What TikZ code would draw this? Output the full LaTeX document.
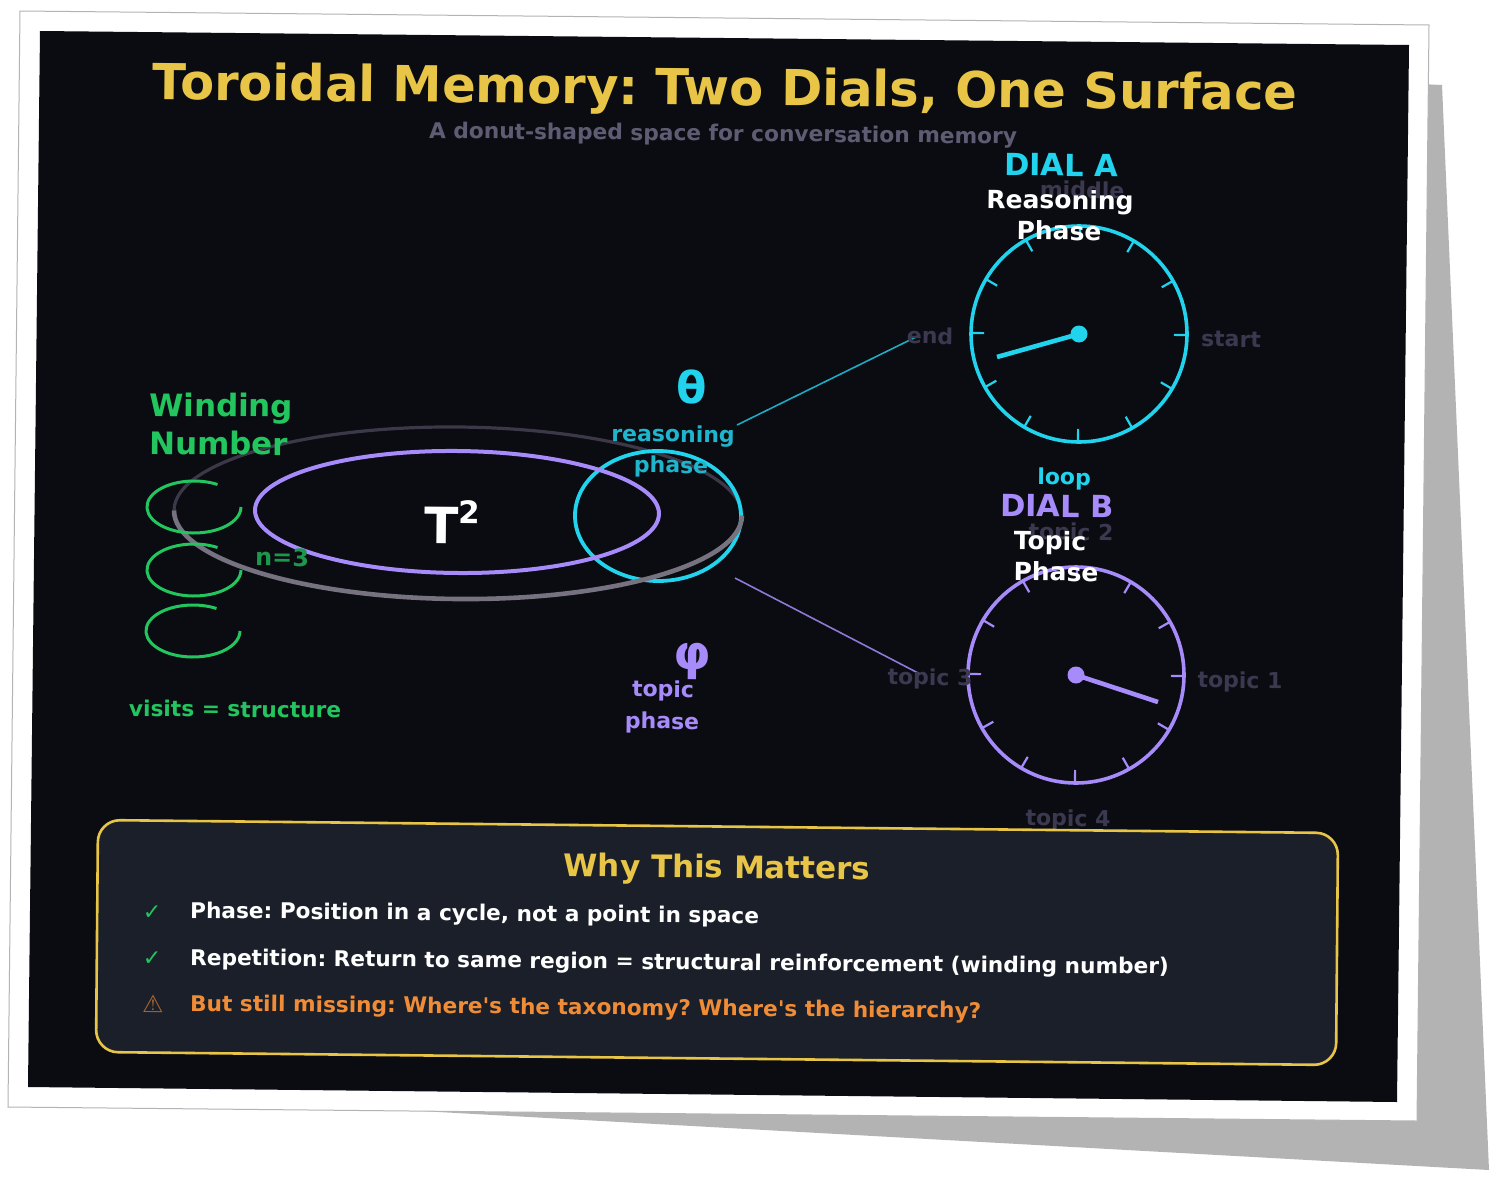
\documentclass[tikz,border=0pt]{standalone}
\usepackage{fontspec}
\setmainfont{DejaVu Sans}
\definecolor{bgdark}{HTML}{0A0C12}
\definecolor{panel}{HTML}{1A1F29}
\definecolor{gold}{HTML}{E8C547}
\definecolor{cyanc}{HTML}{22D3EE}
\definecolor{purp}{HTML}{A78BFA}
\definecolor{grn}{HTML}{22C55E}
\definecolor{orng}{HTML}{F08C35}
\definecolor{dim}{HTML}{3B3850}
\definecolor{subt}{HTML}{5F5B73}
\definecolor{torodark}{HTML}{3C3848}
\definecolor{torolight}{HTML}{767280}
\definecolor{shad}{HTML}{B3B3B3}
\newcommand{\fsz}[1]{\fontsize{#1}{#1}\selectfont}
\frenchspacing
\tikzset{
  lbl/.style={inner sep=0pt,anchor=base,rotate=-0.53,font=\frenchspacing\bfseries\fsz{#1}},
  lblw/.style={inner sep=0pt,anchor=base west,rotate=-0.53,font=\frenchspacing\bfseries\fsz{#1}},
  ring/.style={line width=3.6pt},
  tickmark/.style={line width=2.2pt},
  needle/.style={line width=4.6pt},
  winding/.style={grn,line width=3pt},
  leader/.style={line width=1.6pt}
}
\newcommand{\dialticks}[2]{%
  \foreach \a in {0,30,...,330} {
    \draw[tickmark,#2] ($(#1)+(\a+0.53:108pt)$) -- ($(#1)+(\a+0.53:95pt)$);
  }}
\usetikzlibrary{calc}
\begin{document}
\begin{tikzpicture}[x=1pt,y=1pt,yscale=-1]
\useasboundingbox (0,0) rectangle (1510,1189);
% shadow and frame
\fill[shad] (1442,85) -- (1489,1170) -- (330,1106) -- (1000,1000) -- (1420,84) -- cycle;
\draw[fill=white,draw=shad,line width=1pt] (20,11) -- (1429,25) -- (1417,1121) -- (8,1107) -- cycle;
\fill[bgdark] (40,31) -- (1409,45) -- (1397,1102) -- (28,1087) -- cycle;
% title
\node[lbl=49.6,text=gold] (title) at (725,105) {Toroidal Memory: Two Dials, One Surface};
\node[lbl=21.7,text=subt] (subtitle) at (723,141) {A donut-shaped space for conversation memory};
% coordinates
\coordinate (ca) at (1079,334);
\coordinate (cb) at (1076,675);
\coordinate (na) at (997,357);
\coordinate (nb) at (1158,702);
\coordinate (la1) at (737,425);
\coordinate (la2) at (918,336);
\coordinate (lb1) at (735,578);
\coordinate (lb2) at (920,674);
\coordinate (tc) at (458,513);
\coordinate (pc) at (457,512);
\coordinate (rc) at (658,516);
% torus
\draw[torodark,line width=3.2pt,rotate around={0.53:(tc)}] (174,513) arc[start angle=180,end angle=360,x radius=284pt,y radius=86pt];
\draw[cyanc,line width=3.8pt,rotate around={0.53:(rc)}] (rc) ellipse[x radius=83pt,y radius=65pt];
\draw[purp,line width=4pt,rotate around={0.53:(pc)}] (pc) ellipse[x radius=202pt,y radius=61pt];
\draw[torolight,line width=4.6pt,rotate around={0.53:(tc)}] (174,513) arc[start angle=180,end angle=0,x radius=284pt,y radius=86pt];
\node[lbl=50,text=white] (tsq) at (452,544) {T\raisebox{0.42em}{\fsz{31}2}};
% winding
\node[lblw=31,text=grn] (wind1) at (149,416) {Winding};
\node[lblw=31,text=grn] (wind2) at (149,454) {Number};
\coordinate (w1) at (194,507);
\coordinate (w2) at (194,570);
\coordinate (w3) at (193,631);
\draw[winding] ($(w1)+(-60:47pt and 26pt)$) arc[start angle=-60,end angle=-360,x radius=47pt,y radius=26pt];
\draw[winding] ($(w2)+(-60:47pt and 26pt)$) arc[start angle=-60,end angle=-360,x radius=47pt,y radius=26pt];
\draw[winding] ($(w3)+(-60:47pt and 26pt)$) arc[start angle=-60,end angle=-360,x radius=47pt,y radius=26pt];
\node[lbl=24,text=grn!75!bgdark] (nthree) at (282,566) {n=3};
\node[lbl=21.7,text=grn] (visits) at (235,717) {visits = structure};
% greek
\node[lbl=44,text=cyanc] (theta) at (692,404) {θ};
\node[lbl=22,text=cyanc!85!bgdark] (reas) at (673,442) {reasoning};
\node[lbl=22,text=cyanc!85!bgdark] (phasea) at (671,473) {phase};
\node[lbl=48,text=purp] (phi) at (692,670) {φ};
\node[lbl=22,text=purp] (topicb) at (663,697) {topic};
\node[lbl=22,text=purp] (phaseb) at (662,729) {phase};
% leaders
\draw[leader,cyanc!80!bgdark] (la1) -- (la2);
\draw[leader,purp!85!bgdark] (lb1) -- (lb2);
% dial A
\draw[cyanc,ring] (ca) circle[radius=108pt];
\dialticks{ca}{cyanc}
\draw[needle,cyanc] (ca) -- (na);
\fill[cyanc] (ca) circle[radius=8.5pt];
\node[lbl=30.5,text=cyanc] (diala) at (1061,176) {DIAL A};
\node[lbl=22,text=dim] (middle) at (1082,198) {middle};
\node[lbl=25,text=white] (reasoning) at (1060,209) {Reasoning};
\node[lbl=25,text=white] (phaseA) at (1059,240) {Phase};
\node[lbl=22,text=dim] (start) at (1231,347) {start};
\node[lbl=22,text=dim] (endl) at (930,344) {end};
\node[lbl=22,text=cyanc] (loop) at (1064,485) {loop};
% dial B
\draw[purp,ring] (cb) circle[radius=108pt];
\dialticks{cb}{purp}
\draw[needle,purp] (cb) -- (nb);
\fill[purp] (cb) circle[radius=8.5pt];
\node[lbl=30.5,text=purp] (dialb) at (1057,517) {DIAL B};
\node[lbl=22,text=dim] (topictwo) at (1071,540) {topic 2};
\node[lbl=25,text=white] (topicB) at (1050,550) {Topic};
\node[lbl=25,text=white] (phaseB) at (1056,581) {Phase};
\node[lbl=22,text=dim] (topicone) at (1240,688) {topic 1};
\node[lbl=22,text=dim] (topicthree) at (930,685) {topic 3};
\node[lbl=22,text=dim] (topicfour) at (1068,826) {topic 4};
% panel
\draw[fill=panel,draw=gold,line width=2.6pt,rounded corners=22pt] (98,820) -- (1338,833) -- (1336,1065) -- (96,1052) -- cycle;
\node[lbl=31,text=gold] (why) at (717,878) {Why This Matters};
\node[lbl=22,text=grn] (ck1) at (152,920) {✓};
\node[lbl=22,text=grn] (ck2) at (152,966) {✓};
\node[lbl=24,text=orng!65!panel] (warn) at (153,1013) {⚠};
\node[lblw=21.65,text=white] (l1) at (190,918) {Phase: Position in a cycle, not a point in space};
\node[lblw=21.65,text=white] (l2) at (190,965) {Repetition: Return to same region = structural reinforcement (winding number)};
\node[lblw=21.65,text=orng] (l3) at (190,1011) {But still missing: Where\textquotesingle s the taxonomy? Where\textquotesingle s the hierarchy?};
\end{tikzpicture}
\end{document}
